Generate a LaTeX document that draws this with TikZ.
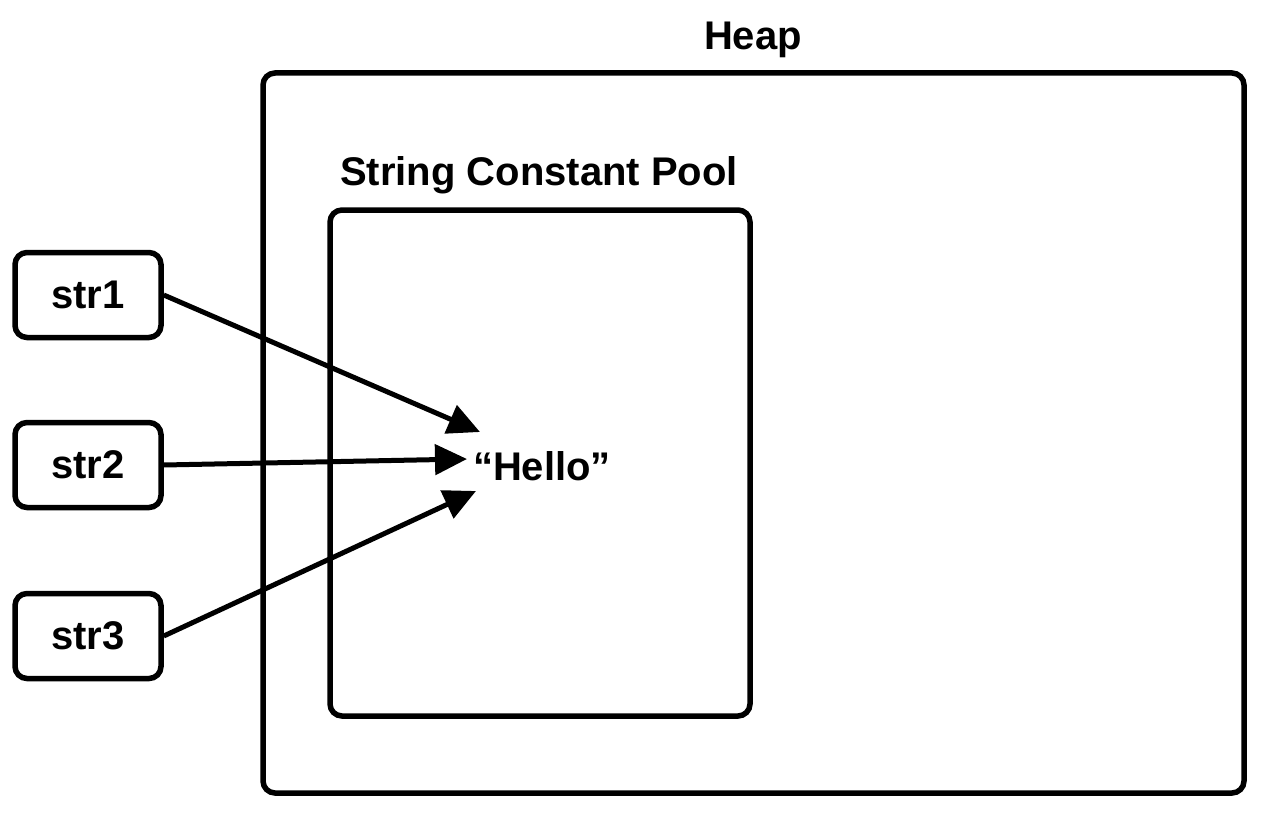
\documentclass[tikz,border=0pt]{standalone}
\usepackage{fontspec}
\setmainfont{Liberation Sans}
\usetikzlibrary{arrows.meta}
\begin{document}
\begin{tikzpicture}[x=1pt,y=-1pt,
  box/.style={draw,line width=5.5pt,rounded corners=12pt},
  lbl/.style={font=\fontsize{40}{46}\selectfont\bfseries},
  ptr/.style={line width=5pt,-{Triangle[length=32pt,width=30pt]}}]
\useasboundingbox (0,0) rectangle (1268,813);
\draw[box] (263,73) rectangle (1244,793);
\node[lbl] (heap) at (753,40) {Heap};
\draw[box] (330,210) rectangle (750,716);
\node[lbl] (pool) at (539,175) {String Constant Pool};
\node[box,lbl,minimum width=146pt,minimum height=85pt,inner sep=0pt] (s1) at (88,295) {str1};
\node[box,lbl,minimum width=146pt,minimum height=85pt,inner sep=0pt] (s2) at (88,465) {str2};
\node[box,lbl,minimum width=146pt,minimum height=85pt,inner sep=0pt] (s3) at (88,636) {str3};
\node[lbl,inner sep=0pt] (hello) at (542,466) {“Hello”};
\coordinate (t1) at (480,432);
\coordinate (t2) at (467,459);
\coordinate (t3) at (476,491);
\draw[ptr] (s1.east) -- (t1);
\draw[ptr] (s2.east) -- (t2);
\draw[ptr] (s3.east) -- (t3);
\end{tikzpicture}
\end{document}
